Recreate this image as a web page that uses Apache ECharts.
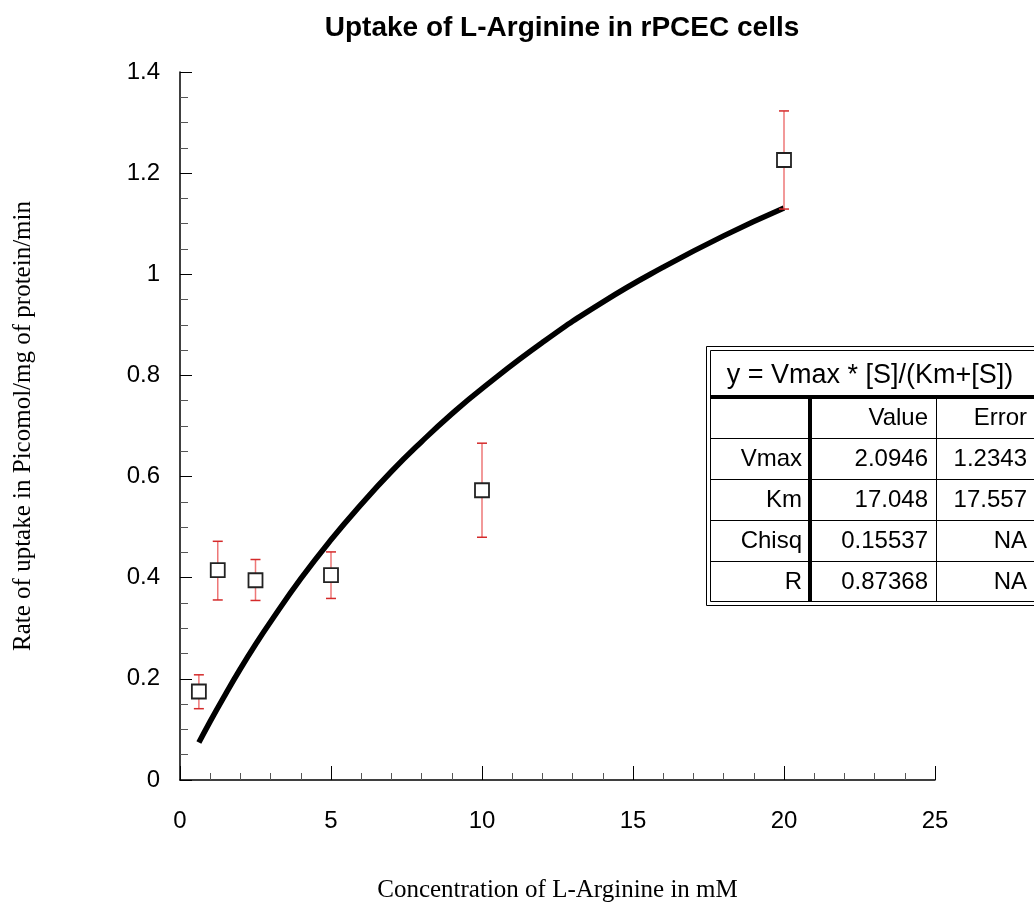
<!DOCTYPE html>
<html><head><meta charset="utf-8">
<script src="https://cdn.jsdelivr.net/npm/echarts@6/dist/echarts.min.js"></script>
<style>html,body{margin:0;padding:0;background:#fff}#c{width:1034px;height:907px}</style>
</head><body><div id="c"></div>
<script>
// Measured data points (x = concentration mM, y = rate)
const xData = [0.625, 1.25, 2.5, 5, 10, 20];
const yData = [0.175, 0.415, 0.395, 0.405, 0.573, 1.226];
const errLow = [0.141, 0.356, 0.355, 0.359, 0.480, 1.129];
const errHigh = [0.208, 0.472, 0.436, 0.451, 0.666, 1.323];
// Fitted curve
const curveX = [0.625, 1, 1.5, 2, 2.5, 3, 4, 5, 6, 7, 8, 9, 10, 12, 14, 16, 18, 20];
const curveY = [0.074, 0.116, 0.169, 0.220, 0.268, 0.313, 0.398, 0.475, 0.545, 0.610, 0.669, 0.724, 0.774, 0.865, 0.945, 1.014, 1.076, 1.131];
// Fit table
const tableTitle = 'y = Vmax * [S]/(Km+[S])';
const tableHeader = ['', 'Value', 'Error'];
const tableRows = [
  ['Vmax', '2.0946', '1.2343'],
  ['Km', '17.048', '17.557'],
  ['Chisq', '0.15537', 'NA'],
  ['R', '0.87368', 'NA']
];
const chartTitle = 'Uptake of L-Arginine in rPCEC cells';
const xName = 'Concentration of L-Arginine in mM';
const yName = 'Rate of uptake in Picomol/mg of protein/min';

const chart = echarts.init(document.getElementById('c'));
const sans = 'Liberation Sans, Arial, sans-serif';
const serif = 'Liberation Serif, Times New Roman, serif';

// table graphics
const g = [];
const L = 706.5, T = 346.5, R = 1045, B = 605.5;
g.push({type:'rect', shape:{x:L, y:T, width:R-L, height:B-T}, style:{fill:'#fff', stroke:'#000', lineWidth:1}, z:10});
g.push({type:'rect', shape:{x:L+4, y:T+4, width:R-L-8, height:B-T-8}, style:{fill:'none', stroke:'#000', lineWidth:1}, z:10});
const rowTop = 397, rowH = 41;
const colLines = [810, 936];
const colRight = [802, 928, 1027];
g.push({type:'line', shape:{x1:L+4, y1:rowTop, x2:R, y2:rowTop}, style:{stroke:'#000', lineWidth:4}, z:11});
for (let i = 1; i <= tableRows.length; i++) {
  const y = rowTop + i*rowH + 0.5;
  g.push({type:'line', shape:{x1:L+4, y1:y, x2:R, y2:y}, style:{stroke:'#000', lineWidth:1}, z:11});
}
g.push({type:'line', shape:{x1:colLines[0], y1:rowTop, x2:colLines[0], y2:B-4}, style:{stroke:'#000', lineWidth:4}, z:11});
g.push({type:'line', shape:{x1:colLines[1]+0.5, y1:rowTop, x2:colLines[1]+0.5, y2:B-4}, style:{stroke:'#000', lineWidth:1}, z:11});
g.push({type:'text', x:870, y:376, style:{text:tableTitle, font:'27px '+sans, fill:'#000', textAlign:'center', textVerticalAlign:'middle'}, z:12});
const allRows = [tableHeader].concat(tableRows);
allRows.forEach((row, r) => {
  const cy = rowTop + r*rowH + rowH/2 + 0.5;
  row.forEach((txt, c) => {
    if (!txt) return;
    g.push({type:'text', x:colRight[c], y:cy, style:{text:txt, font:'24px '+sans, fill:'#000', textAlign:'right', textVerticalAlign:'middle'}, z:12});
  });
});

chart.setOption({
  animation: false,
  backgroundColor: '#fff',
  title: {text: chartTitle, left: 557, top: 9, textAlign: 'center',
    textStyle: {fontFamily: sans, fontSize: 28, fontWeight: 'bold', color: '#000'}},
  grid: {left: 180, right: 99, top: 72, bottom: 127, outerBoundsMode: 'none', containLabel: false},
  xAxis: {
    type: 'value', min: 0, max: 25, interval: 5,
    name: xName, nameLocation: 'middle', nameGap: 98,
    nameTextStyle: {fontFamily: serif, fontSize: 25, color: '#000'},
    axisLine: {show: true, onZero: false, lineStyle: {color: '#000', width: 1.5}},
    axisTick: {show: true, inside: true, length: 14, lineStyle: {color: '#000', width: 1}},
    minorTick: {show: true, splitNumber: 5, length: 7, lineStyle: {color: '#555', width: 1}},
    axisLabel: {fontFamily: sans, fontSize: 24, color: '#000', margin: 29},
    splitLine: {show: false}
  },
  yAxis: {
    type: 'value', min: 0, max: 1.4, interval: 0.2,
    name: yName, nameLocation: 'middle', nameGap: 144,
    nameTextStyle: {fontFamily: serif, fontSize: 25, color: '#000'},
    axisLine: {show: true, onZero: false, lineStyle: {color: '#000', width: 1.5}},
    axisTick: {show: true, inside: true, length: 12, lineStyle: {color: '#000', width: 1}},
    minorTick: {show: true, splitNumber: 4, length: 8, lineStyle: {color: '#555', width: 1}},
    axisLabel: {fontFamily: sans, fontSize: 24, color: '#000', margin: 20,
      formatter: v => String(Math.round(v*10)/10)},
    splitLine: {show: false}
  },
  graphic: g,
  series: [
    {
      type: 'line', data: curveX.map((x, i) => [x, curveY[i]]),
      smooth: true, showSymbol: false, symbol: 'none',
      lineStyle: {color: '#000', width: 5.5}, z: 2
    },
    {
      type: 'custom',
      data: xData.map((x, i) => [x, errLow[i], errHigh[i]]),
      renderItem: function (params, api) {
        const x = api.value(0);
        const lo = api.coord([x, api.value(1)]);
        const hi = api.coord([x, api.value(2)]);
        const w = 5;
        return {type: 'group', children: [
          {type: 'line', shape: {x1: lo[0], y1: lo[1], x2: hi[0], y2: hi[1]}, style: {stroke: '#ee7777', lineWidth: 1.5}},
          {type: 'line', shape: {x1: lo[0]-w, y1: lo[1], x2: lo[0]+w, y2: lo[1]}, style: {stroke: '#d42a2a', lineWidth: 1.5}},
          {type: 'line', shape: {x1: hi[0]-w, y1: hi[1], x2: hi[0]+w, y2: hi[1]}, style: {stroke: '#d42a2a', lineWidth: 1.5}}
        ]};
      },
      z: 3
    },
    {
      type: 'scatter', data: xData.map((x, i) => [x, yData[i]]),
      symbol: 'rect', symbolSize: 14,
      itemStyle: {color: '#fff', borderColor: '#222', borderWidth: 1.8, opacity: 1},
      z: 4
    }
  ]
});
</script></body></html>
